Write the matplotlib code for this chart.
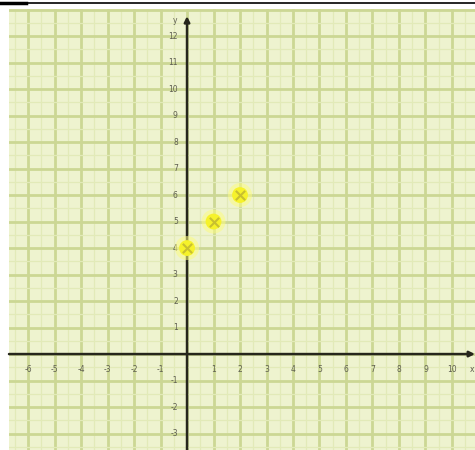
import numpy as np
import matplotlib.pyplot as plt
from matplotlib.lines import Line2D

# Dades dels punts
punts_x = [0, 1, 2]
punts_y = [4, 5, 6]

# Etiquetes dels eixos
xticks = [-6, -5, -4, -3, -2, -1, 1, 2, 3, 4, 5, 6, 7, 8, 9, 10]
yticks = [-3, -2, -1, 1, 2, 3, 4, 5, 6, 7, 8, 9, 10, 11, 12]

fons = '#eef3cf'
color_major = '#ccd794'
color_minor = '#e2eab8'
color_text = '#5e5e50'

fig = plt.figure(figsize=(4.75, 4.5), dpi=100)
ax = fig.add_axes([9/475, 0, 466/475, 441/450])
ax.set_facecolor(fons)
ax.set_xlim(-6.72, 10.87)
ax.set_ylim(-3.62, 13.02)

# Graella
for v in np.arange(-7, 12, 0.5):
    major = float(v).is_integer()
    ax.axvline(v, color=color_major if major else color_minor,
               lw=2.0 if major else 0.9, zorder=0)
for v in np.arange(-4, 14, 0.5):
    major = float(v).is_integer()
    ax.axhline(v, color=color_major if major else color_minor,
               lw=2.0 if major else 0.9, zorder=0)

# Eixos amb fletxes
ax.annotate('', xy=(10.87, 0), xytext=(-6.72, 0),
            arrowprops=dict(arrowstyle='-|>', color='#26261c', lw=1.8,
                            mutation_scale=8, shrinkA=0, shrinkB=0), zorder=3)
ax.annotate('', xy=(0, 12.75), xytext=(0, -3.62),
            arrowprops=dict(arrowstyle='-|>', color='#26261c', lw=1.8,
                            mutation_scale=8, shrinkA=0, shrinkB=0), zorder=3)

for t in xticks:
    ax.text(t, -0.6, str(t), ha='center', va='center', fontsize=5.5, color=color_text)
for t in yticks:
    ax.text(-0.35, t, str(t), ha='right', va='center', fontsize=5.5, color=color_text)
ax.text(-0.35, 12.6, 'y', ha='right', va='center', fontsize=5.5, color=color_text)
ax.text(10.75, -0.6, 'x', ha='center', va='center', fontsize=5.5, color=color_text)

# Punts
ax.scatter(punts_x, punts_y, s=300, color='#fbfb80', alpha=0.55, edgecolors='none', zorder=4)
ax.scatter(punts_x, punts_y, s=130, color='#f6f22a', edgecolors='none', zorder=5)
ax.scatter(punts_x, punts_y, s=45, marker='x', color='#c8c030', linewidths=1.5, zorder=6)

for s in ax.spines.values():
    s.set_visible(False)
ax.set_xticks([])
ax.set_yticks([])

# Línia negra superior
fig.add_artist(Line2D([0, 1], [1 - 3/450, 1 - 3/450], color='black', lw=1.2))
fig.add_artist(Line2D([0, 26/475], [1 - 3/450, 1 - 3/450], color='black', lw=2.5))

plt.savefig('out.png', dpi=100)
